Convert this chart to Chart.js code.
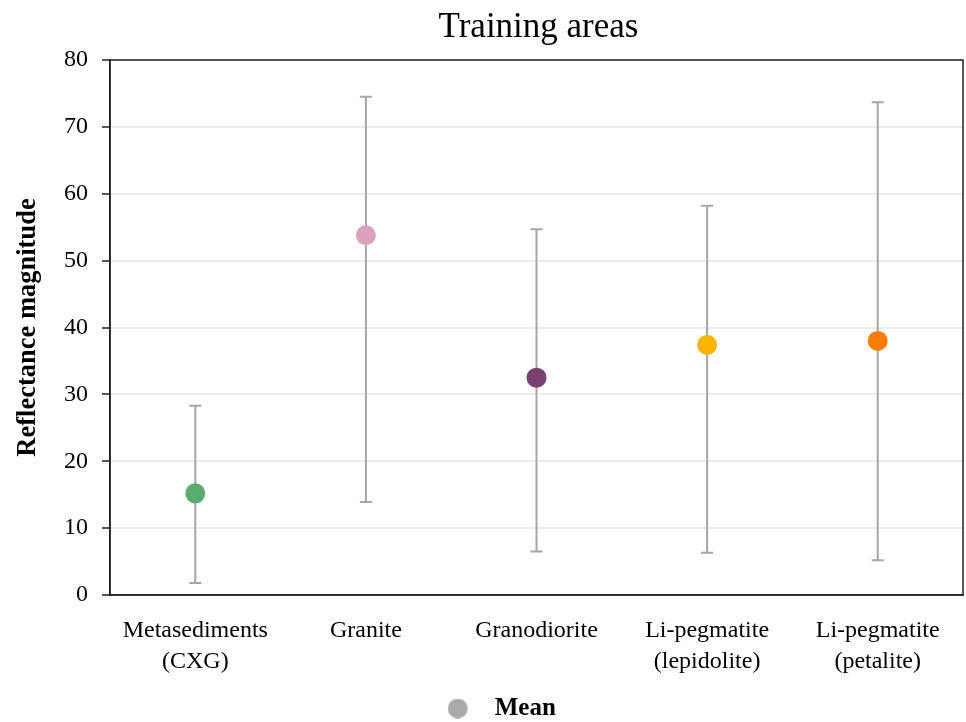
<!DOCTYPE html>
<html>
<head>
<meta charset="utf-8">
<script src="https://cdn.jsdelivr.net/npm/chart.js@4.4.0/dist/chart.umd.min.js"></script>
<style>
  html, body { margin: 0; padding: 0; background: #fff; }
  #wrap { width: 966px; height: 722px; }
</style>
</head>
<body>
<div id="wrap"><canvas id="c" width="966" height="722"></canvas></div>
<script>
const categories = [["Metasediments", "(CXG)"], "Granite", "Granodiorite", ["Li-pegmatite", "(lepidolite)"], ["Li-pegmatite", "(petalite)"]];
const meanValues = [15.2, 53.8, 32.5, 37.4, 38.0];
const lowValues  = [1.8, 13.9, 6.5, 6.3, 5.2];
const highValues = [28.3, 74.5, 54.7, 58.2, 73.7];
const pointColors = ["#5aaa72", "#dba0bd", "#7b4073", "#ffb302", "#fb7d08"];
const yTicks = [0, 10, 20, 30, 40, 50, 60, 70, 80];

const FONT = "'Liberation Serif', 'DejaVu Serif', serif";

// legend marker: grey circle drawn at the left of a small canvas
const legendMarker = document.createElement('canvas');
legendMarker.width = 44; legendMarker.height = 20;
(function () {
  const g = legendMarker.getContext('2d');
  g.fillStyle = '#aaaaaa';
  g.beginPath(); g.arc(10, 10, 10, 0, Math.PI * 2); g.fill();
})();

const errorBars = {
  id: 'errorBars',
  beforeDatasetsDraw(chart) {
    const ctx = chart.ctx;
    const xs = chart.scales.x, ys = chart.scales.y;
    ctx.save();
    ctx.strokeStyle = '#a6a6a6';
    ctx.lineWidth = 2;
    for (let i = 0; i < meanValues.length; i++) {
      const x = xs.getPixelForValue(i);
      const yl = ys.getPixelForValue(lowValues[i]);
      const yh = ys.getPixelForValue(highValues[i]);
      ctx.beginPath();
      ctx.moveTo(x, yl); ctx.lineTo(x, yh);
      ctx.moveTo(x - 6, yl); ctx.lineTo(x + 6, yl);
      ctx.moveTo(x - 6, yh); ctx.lineTo(x + 6, yh);
      ctx.stroke();
    }
    ctx.restore();
  }
};

const frame = {
  id: 'frame',
  afterLayout(chart) {
    if (chart.legend) {
      chart.legend.left += 25; chart.legend.right += 25;
      chart.legend.top += 9; chart.legend.bottom += 9;
    }
    if (chart.titleBlock) { chart.titleBlock.left += 57; chart.titleBlock.right += 57; }
  },
  afterDraw(chart) {
    const a = chart.chartArea, ctx = chart.ctx;
    ctx.save();
    ctx.strokeStyle = '#222';
    ctx.lineWidth = 1.5;
    ctx.strokeRect(a.left, a.top, a.right - a.left, a.bottom - a.top);
    ctx.restore();
  }
};

new Chart(document.getElementById('c'), {
  type: 'line',
  data: {
    labels: categories,
    datasets: [{
      label: 'Mean',
      data: meanValues,
      showLine: false,
      pointRadius: 10,
      pointHoverRadius: 10,
      pointBackgroundColor: pointColors,
      pointBorderWidth: 0,
      borderColor: '#aaaaaa',
      backgroundColor: '#aaaaaa'
    }]
  },
  options: {
    responsive: false,
    animation: false,
    layout: { autoPadding: false, padding: { left: 0, right: 3, top: 0, bottom: 0 } },
    plugins: {
      title: {
        display: true,
        text: 'Training areas',
        color: '#000',
        font: { family: FONT, size: 35, weight: 'normal', lineHeight: 1.2 },
        padding: { top: 7, bottom: 11 }
      },
      legend: {
        position: 'bottom',
        labels: {
          usePointStyle: true,
          boxWidth: 25,
          boxHeight: 20,
          padding: 0,
          color: '#000',
          font: { family: FONT, size: 25, weight: 'bold' },
          generateLabels() {
            return [{ text: 'Mean', fillStyle: '#aaaaaa', strokeStyle: '#aaaaaa', lineWidth: 0, pointStyle: legendMarker, datasetIndex: 0 }];
          }
        }
      },
      tooltip: { enabled: false }
    },
    scales: {
      x: {
        type: 'category',
        offset: true,
        grid: { display: false, drawTicks: false },
        border: { display: true, color: '#222', width: 1.5 },
        ticks: { color: '#000', font: { family: FONT, size: 24, lineHeight: 1.3 }, padding: 20, maxRotation: 0, autoSkip: false },
        afterFit(scale) { scale.height = 92; }
      },
      y: {
        min: 0, max: 80,
        afterBuildTicks(scale) { scale.ticks = yTicks.map(v => ({ value: v })); },
        grid: { color: '#ececec', lineWidth: 2, tickColor: '#222', tickLength: 8, tickWidth: 1.5 },
        border: { display: true, color: '#222', width: 1.5 },
        ticks: { color: '#000', font: { family: FONT, size: 24 }, padding: 14 },
        title: {
          display: true,
          text: 'Reflectance magnitude',
          color: '#000',
          font: { family: FONT, size: 26.5, weight: 'bold', lineHeight: 1.2 },
          padding: { top: 12, bottom: 0 }
        },
        afterFit(scale) { scale.width = 110; }
      }
    }
  },
  plugins: [errorBars, frame]
});
</script>
</body>
</html>
